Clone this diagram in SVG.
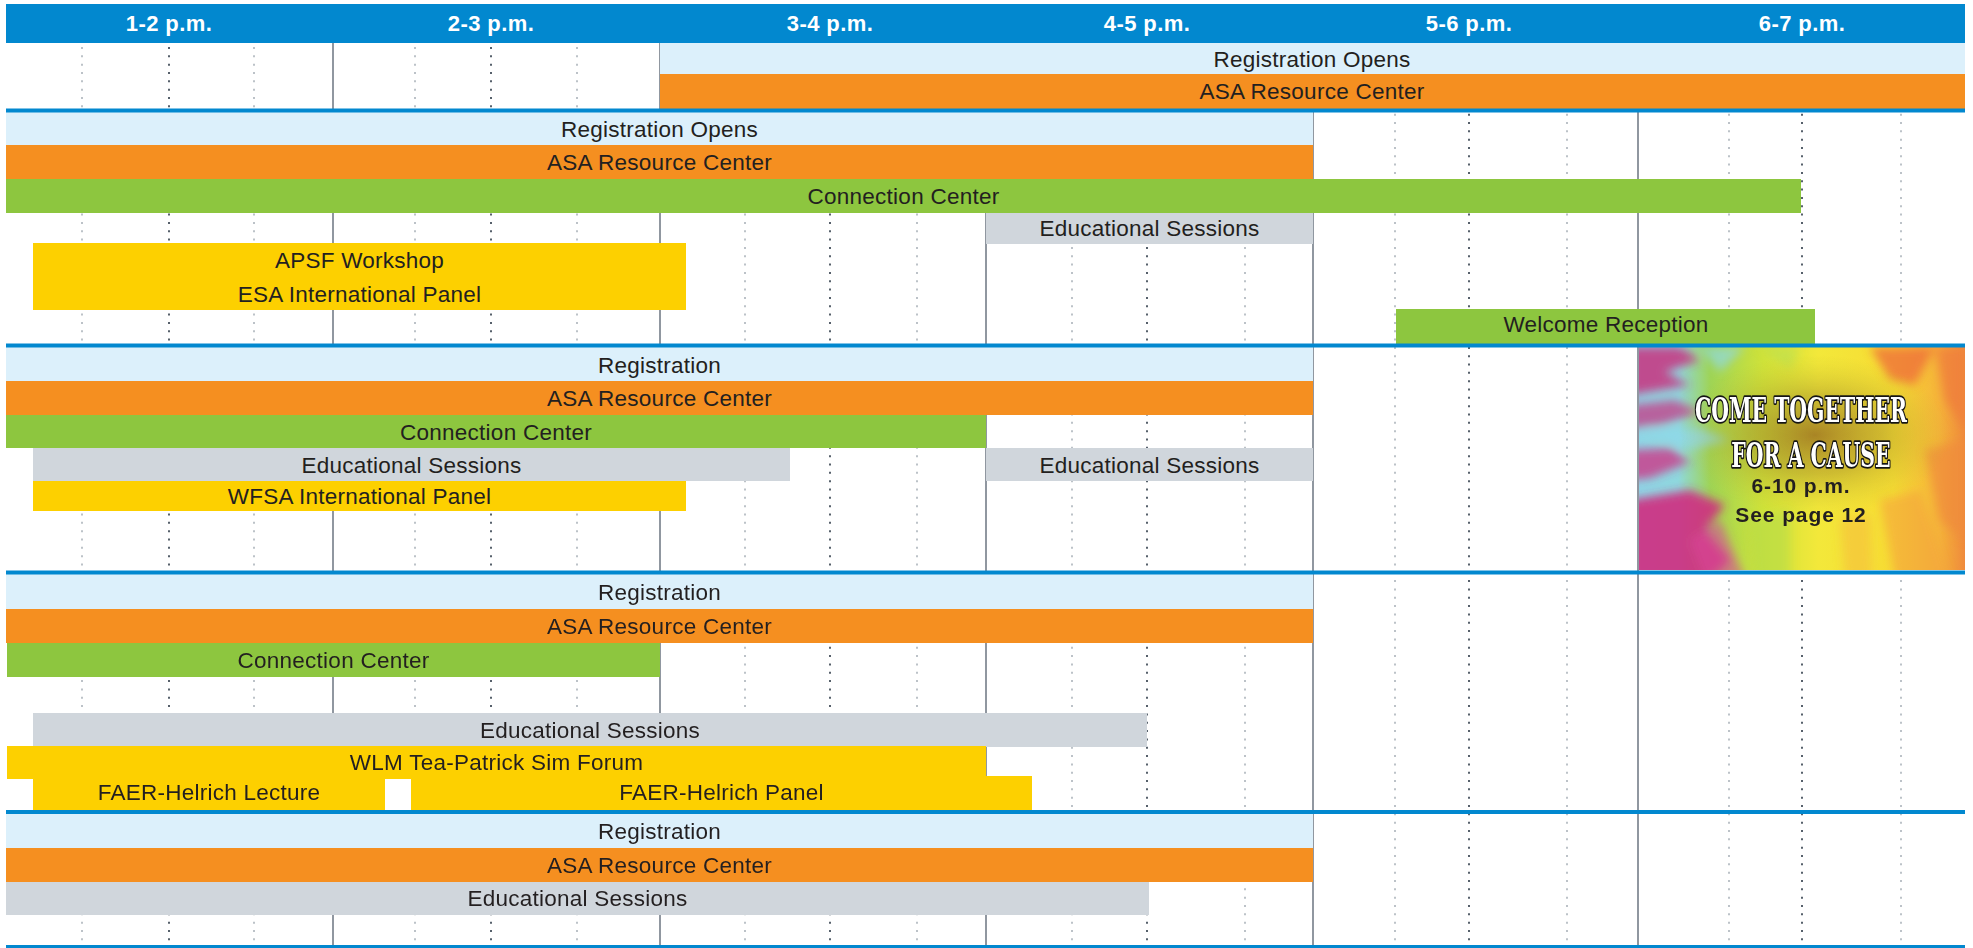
<svg xmlns="http://www.w3.org/2000/svg" width="1973" height="948" viewBox="0 0 1973 948">
<defs>
<style>
.t{font-family:"Liberation Sans",Arial,sans-serif;font-size:22.5px;fill:#231f20;text-anchor:middle;letter-spacing:0.25px}
.hd{font-family:"Liberation Sans",Arial,sans-serif;font-weight:bold;font-size:22px;fill:#ffffff;text-anchor:middle;letter-spacing:0.4px}
.reg{fill:#dcf0fb}
.asa{fill:#f58f20}
.grn{fill:#8dc63f}
.edu{fill:#d0d6dc}
.yel{fill:#fdd000}
.sep{fill:#0288cf}
.dl{stroke:#bcc2c8;stroke-width:2;stroke-dasharray:2 6.33}
.dd{stroke:#56606b;stroke-width:2;stroke-dasharray:2 6.33}
.div{stroke:#6b7580;stroke-width:1.5}
.ct{font-family:"DejaVu Serif","Liberation Serif",serif;font-weight:bold;font-size:34px;fill:#ffffff;stroke:#151515;stroke-width:3.5;stroke-linejoin:round;paint-order:stroke;text-anchor:middle}
.cs{font-family:"Liberation Sans",Arial,sans-serif;font-weight:bold;font-size:21px;fill:#231f20;text-anchor:middle;letter-spacing:0.9px}
</style>
<linearGradient id="tie" x1="0" y1="0" x2="1" y2="0">
<stop offset="0" stop-color="#8fd6e6"/>
<stop offset="0.12" stop-color="#8fd8de"/>
<stop offset="0.22" stop-color="#9fd455"/>
<stop offset="0.38" stop-color="#cfe23a"/>
<stop offset="0.55" stop-color="#f3e83a"/>
<stop offset="0.78" stop-color="#f7dc34"/>
<stop offset="0.92" stop-color="#f5b33a"/>
<stop offset="1" stop-color="#ef8a3c"/>
</linearGradient>
<radialGradient id="blob" cx="0.5" cy="0.5" r="0.5">
<stop offset="0" stop-color="#8a5a1c" stop-opacity="0.7"/>
<stop offset="0.5" stop-color="#a08a28" stop-opacity="0.45"/>
<stop offset="1" stop-color="#c8c030" stop-opacity="0"/>
</radialGradient>
<filter id="soft" x="-10%" y="-10%" width="120%" height="120%"><feGaussianBlur stdDeviation="5"/></filter>
<clipPath id="tieclip"><rect x="1639" y="347" width="326" height="223"/></clipPath>
</defs>
<rect x="0" y="0" width="1973" height="948" fill="#ffffff"/>

<g id="grid">
<g id="dots">
<line class="dl" x1="82" y1="47" x2="82" y2="946"/>
<line class="dd" x1="169" y1="47" x2="169" y2="946"/>
<line class="dl" x1="254" y1="47" x2="254" y2="946"/>
<line class="dl" x1="415" y1="47" x2="415" y2="946"/>
<line class="dd" x1="491" y1="47" x2="491" y2="946"/>
<line class="dl" x1="577" y1="47" x2="577" y2="946"/>
<line class="dl" x1="745" y1="47" x2="745" y2="946"/>
<line class="dd" x1="830" y1="47" x2="830" y2="946"/>
<line class="dl" x1="917" y1="47" x2="917" y2="946"/>
<line class="dl" x1="1072" y1="47" x2="1072" y2="946"/>
<line class="dd" x1="1147" y1="47" x2="1147" y2="946"/>
<line class="dl" x1="1245" y1="47" x2="1245" y2="946"/>
<line class="dl" x1="1395" y1="47" x2="1395" y2="946"/>
<line class="dd" x1="1469" y1="47" x2="1469" y2="946"/>
<line class="dl" x1="1567" y1="47" x2="1567" y2="946"/>
<line class="dl" x1="1729" y1="47" x2="1729" y2="946"/>
<line class="dd" x1="1802" y1="47" x2="1802" y2="946"/>
<line class="dl" x1="1901" y1="47" x2="1901" y2="946"/>
</g>
<g id="dividers">
<line class="div" x1="333" y1="43" x2="333" y2="946"/>
<line class="div" x1="660" y1="43" x2="660" y2="946"/>
<line class="div" x1="986" y1="43" x2="986" y2="946"/>
<line class="div" x1="1313" y1="43" x2="1313" y2="946"/>
<line class="div" x1="1638" y1="43" x2="1638" y2="946"/>
</g>
</g>

<g id="header">
<rect x="6" y="4" width="1959" height="39" fill="#0288cf"/>
<text class="hd" x="169" y="31">1-2 p.m.</text>
<text class="hd" x="491" y="31">2-3 p.m.</text>
<text class="hd" x="830" y="31">3-4 p.m.</text>
<text class="hd" x="1147" y="31">4-5 p.m.</text>
<text class="hd" x="1469" y="31">5-6 p.m.</text>
<text class="hd" x="1802" y="31">6-7 p.m.</text>
</g>

<g id="day1">
<g id="d1-registration"><rect class="reg" x="660" y="43" width="1305" height="31"/><text class="t" x="1312" y="67">Registration Opens</text></g>
<g id="d1-asa"><rect class="asa" x="660" y="74" width="1305" height="35"/><text class="t" x="1312" y="99">ASA Resource Center</text></g>
</g>

<g id="day2">
<g id="d2-registration"><rect class="reg" x="6" y="112" width="1307" height="33"/><text class="t" x="659.5" y="136.5">Registration Opens</text></g>
<g id="d2-asa"><rect class="asa" x="6" y="145" width="1307" height="34"/><text class="t" x="659.5" y="170">ASA Resource Center</text></g>
<g id="d2-connection"><rect class="grn" x="6" y="179" width="1795" height="34"/><text class="t" x="903.5" y="204">Connection Center</text></g>
<g id="d2-edu"><rect class="edu" x="986" y="213" width="327" height="31"/><text class="t" x="1149.5" y="236">Educational Sessions</text></g>
<g id="d2-apsf"><rect class="yel" x="33" y="243" width="653" height="67"/><text class="t" x="359.5" y="268">APSF Workshop</text><text class="t" x="359.5" y="302">ESA International Panel</text></g>
<g id="d2-welcome"><rect class="grn" x="1396" y="309" width="419" height="35"/><text class="t" x="1606" y="332">Welcome Reception</text></g>
</g>

<g id="day3">
<g id="d3-registration"><rect class="reg" x="6" y="347" width="1307" height="34"/><text class="t" x="659.5" y="372.5">Registration</text></g>
<g id="d3-asa"><rect class="asa" x="6" y="381" width="1307" height="34"/><text class="t" x="659.5" y="406">ASA Resource Center</text></g>
<g id="d3-connection"><rect class="grn" x="6" y="415" width="980" height="33"/><text class="t" x="496" y="439.5">Connection Center</text></g>
<g id="d3-edu1"><rect class="edu" x="33" y="448" width="757" height="33"/><text class="t" x="411.5" y="472.5">Educational Sessions</text></g>
<g id="d3-edu2"><rect class="edu" x="986" y="448" width="327" height="33"/><text class="t" x="1149.5" y="472.5">Educational Sessions</text></g>
<g id="d3-wfsa"><rect class="yel" x="33" y="481" width="653" height="30"/><text class="t" x="359.5" y="504">WFSA International Panel</text></g>
<g id="d3-cometogether">
<g clip-path="url(#tieclip)">
<rect x="1639" y="347" width="326" height="223" fill="url(#tie)"/>
<g filter="url(#soft)">
<path d="M1630 347 L1680 347 L1700 360 L1665 372 L1690 385 L1630 395 Z" fill="#c8347f" opacity="0.85"/>
<path d="M1630 405 L1675 400 L1700 412 L1660 425 L1630 428 Z" fill="#c63a86" opacity="0.75"/>
<path d="M1630 450 L1670 448 L1690 462 L1650 478 L1630 480 Z" fill="#cc3a88" opacity="0.8"/>
<path d="M1630 500 L1690 490 L1725 505 L1705 530 L1730 560 L1710 580 L1630 580 Z" fill="#cf2f80" opacity="0.9"/>
<path d="M1690 540 L1720 520 L1745 580 L1705 580 Z" fill="#d8449a" opacity="0.6"/>
<path d="M1640 430 L1700 428 L1730 440 L1690 450 Z" fill="#8ed8ea" opacity="0.8"/>
<path d="M1700 347 L1745 347 L1720 372 Z" fill="#8fd8e4" opacity="0.7"/>
<path d="M1870 347 L1935 347 L1915 385 L1890 380 Z" fill="#ee6a3a" opacity="0.75"/>
<path d="M1935 347 L1965 347 L1965 430 L1945 400 Z" fill="#f07a3a" opacity="0.7"/>
<path d="M1925 450 L1965 440 L1965 540 L1940 520 Z" fill="#f08a3c" opacity="0.7"/>
<path d="M1880 500 L1920 490 L1950 580 L1895 580 Z" fill="#f3a43a" opacity="0.6"/>
<path d="M1840 520 L1870 515 L1872 580 L1845 580 Z" fill="#f5c03a" opacity="0.6"/>
<path d="M1750 520 L1790 510 L1790 580 L1755 580 Z" fill="#b6dc48" opacity="0.6"/>
<path d="M1760 347 L1800 347 L1790 370 Z" fill="#b9e052" opacity="0.6"/>
</g>
<ellipse cx="1815" cy="435" rx="135" ry="80" fill="url(#blob)"/>
</g>
<text class="ct" transform="matrix(0.6,0,0,1,1801,422)" x="0" y="0">COME TOGETHER</text>
<text class="ct" transform="matrix(0.6,0,0,1,1811,467)" x="0" y="0">FOR A CAUSE</text>
<text class="cs" x="1801" y="493">6-10 p.m.</text>
<text class="cs" x="1801" y="522">See page 12</text>
</g>
</g>

<g id="day4">
<g id="d4-registration"><rect class="reg" x="6" y="574" width="1307" height="35"/><text class="t" x="659.5" y="600">Registration</text></g>
<g id="d4-asa"><rect class="asa" x="6" y="609" width="1307" height="34"/><text class="t" x="659.5" y="634">ASA Resource Center</text></g>
<g id="d4-connection"><rect class="grn" x="7" y="643" width="653" height="34"/><text class="t" x="333.5" y="668">Connection Center</text></g>
<g id="d4-edu"><rect class="edu" x="33" y="713" width="1114" height="34"/><text class="t" x="590" y="738">Educational Sessions</text></g>
<g id="d4-wlm"><rect class="yel" x="7" y="746" width="979" height="33"/><text class="t" x="496.5" y="770">WLM Tea-Patrick Sim Forum</text></g>
<g id="d4-lecture"><rect class="yel" x="33" y="778" width="352" height="32"/><text class="t" x="209" y="800">FAER-Helrich Lecture</text></g>
<g id="d4-panel"><rect class="yel" x="411" y="776" width="621" height="34"/><text class="t" x="721.5" y="800">FAER-Helrich Panel</text></g>
</g>

<g id="day5">
<g id="d5-registration"><rect class="reg" x="6" y="814" width="1307" height="34"/><text class="t" x="659.5" y="839">Registration</text></g>
<g id="d5-asa"><rect class="asa" x="6" y="848" width="1307" height="34"/><text class="t" x="659.5" y="873">ASA Resource Center</text></g>
<g id="d5-edu"><rect class="edu" x="6" y="882" width="1143" height="33"/><text class="t" x="577.5" y="906">Educational Sessions</text></g>
</g>

<g id="separators">
<rect class="sep" x="6" y="108.5" width="1959" height="4"/>
<rect class="sep" x="6" y="343.5" width="1959" height="4"/>
<rect class="sep" x="6" y="570.5" width="1959" height="4"/>
<rect class="sep" x="6" y="810" width="1959" height="4"/>
<rect class="sep" x="6" y="945" width="1959" height="3"/>
</g>
</svg>
